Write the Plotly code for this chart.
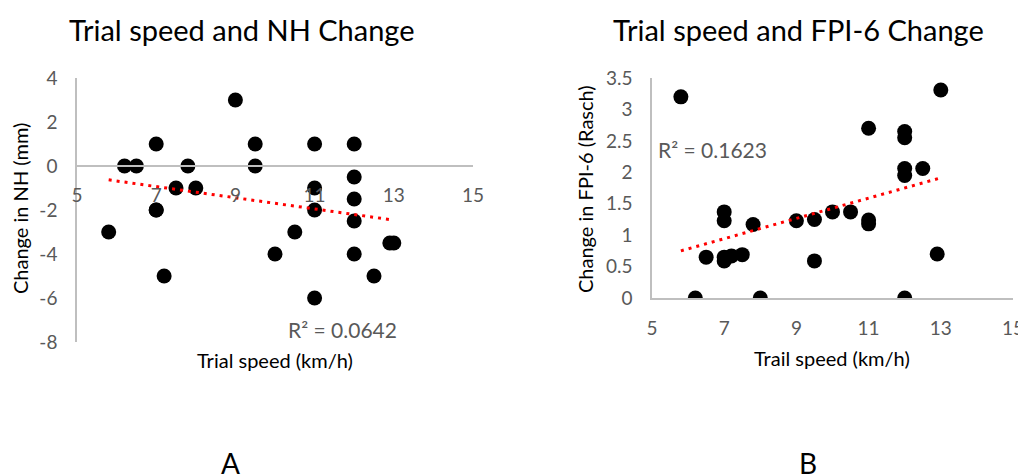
"""Trial speed vs NH change / FPI-6 change, two Excel-style scatter panels."""

import numpy as np
import plotly.graph_objects as go

# Panel A: trial speed vs change in navicular height
speed_a = [5.8, 6.2, 6.5, 7.0, 7.0, 7.0, 7.2, 7.5, 7.8, 8.0, 9.0, 9.5, 9.5,
           10.0, 10.5, 11.0, 11.0, 11.0, 11.0, 12.0, 12.0, 12.0, 12.0, 12.0,
           12.5, 12.9, 13.0]
nh_change = [-3, 0, 0, 1, -2, -2, -5, -1, 0, -1, 3, 1, 0,
             -4, -3, 1, -1, -2, -6, 1, -0.5, -1.5, -2.5, -4,
             -5, -3.5, -3.5]

# Panel B: trail speed vs change in FPI-6
speed_b = [5.8, 6.2, 6.5, 7.0, 7.0, 7.0, 7.0, 7.2, 7.5, 7.8, 8.0, 9.0, 9.5,
           9.5, 10.0, 10.5, 11.0, 11.0, 11.0, 12.0, 12.0, 12.0, 12.0, 12.0,
           12.5, 12.9, 13.0]
fpi_change = [3.2, 0, 0.65, 1.37, 1.23, 0.65, 0.59, 0.67, 0.69, 1.17, 0, 1.23, 1.25,
              0.59, 1.37, 1.37, 2.7, 1.24, 1.18, 2.65, 2.55, 2.06, 1.95, 0,
              2.06, 0.7, 3.31]

titles = ["Trial speed and NH Change", "Trial speed and FPI-6 Change"]
x_titles = ["Trial speed (km/h)", "Trail speed (km/h)"]
y_titles = ["Change in NH (mm)", "Change in FPI-6 (Rasch)"]
r2_labels = ["R² = 0.0642", "R² = 0.1623"]
panel_labels = ["A", "B"]
x_ticks = [5, 7, 9, 11, 13, 15]
y_ticks_a = [4, 2, 0, -2, -4, -6, -8]
y_ticks_b = [0, 0.5, 1, 1.5, 2, 2.5, 3, 3.5]

# the page body has an 8px margin, so the figure is drawn 8px smaller
OFF = 8
W, H = 1026 - OFF, 475 - OFF
FONT = "Lato"
GREY = "#595959"
AXIS = "#bfbfbf"


def px_x(p):
    return (p - OFF) / W


def px_y(p):
    return 1 - (p - OFF) / H


dom_a_x = [px_x(77), px_x(473)]
dom_a_y = [px_y(342), px_y(78)]
dom_b_x = [px_x(652), px_x(1013)]
dom_b_y = [px_y(298), px_y(78)]

fig = go.Figure()


def add_panel(xs, ys, xa, ya):
    fig.add_trace(go.Scatter(
        x=xs, y=ys, mode="markers", xaxis=xa, yaxis=ya,
        marker=dict(color="black", size=15), showlegend=False,
    ))
    # linear trendline fitted from the data
    slope, intercept = np.polyfit(xs, ys, 1)
    xt = np.array([min(xs), max(xs)])
    fig.add_trace(go.Scatter(
        x=xt, y=slope * xt + intercept, mode="lines", xaxis=xa, yaxis=ya,
        line=dict(color="red", width=3, dash="3px,5px"), showlegend=False,
    ))


add_panel(speed_a, nh_change, "x", "y")
add_panel(speed_b, fpi_change, "x2", "y2")

tick_font = dict(family=FONT, size=19, color=GREY)
common_x = dict(range=[5, 15], tickvals=x_ticks, showgrid=False, zeroline=False,
                showline=True, linecolor=AXIS, linewidth=1.5, ticks="",
                tickfont=tick_font, ticklabelstandoff=12, automargin=False)
common_y = dict(showgrid=False, zeroline=False, showline=True, linecolor=AXIS,
                linewidth=1.5, ticks="", tickfont=tick_font, ticklabelstandoff=14,
                automargin=False)

# x axis of panel A crosses at y = 0
pos_a = dom_a_y[0] + (0 - (-8)) / 12 * (dom_a_y[1] - dom_a_y[0])

fig.update_layout(
    width=W, height=H,
    margin=dict(l=0, r=0, t=0, b=0),
    paper_bgcolor="white", plot_bgcolor="white",
    font=dict(family=FONT, color="black"),
    xaxis=dict(domain=dom_a_x, anchor="free", position=pos_a, **common_x),
    yaxis=dict(domain=dom_a_y, anchor="x", range=[-8, 4], tickvals=y_ticks_a,
               ticktext=[str(v) for v in y_ticks_a], **common_y),
    xaxis2=dict(domain=dom_b_x, anchor="y2", **common_x),
    yaxis2=dict(domain=dom_b_y, anchor="x2", range=[0, 3.5], tickvals=y_ticks_b,
                ticktext=[f"{v:g}" for v in y_ticks_b], **common_y),
)


def label(txt, cx, cy, size, color="black", angle=0, yanchor="middle"):
    return dict(text=txt, x=px_x(cx), y=px_y(cy), xref="paper", yref="paper",
                xanchor="center", yanchor=yanchor, textangle=angle,
                showarrow=False, font=dict(family=FONT, size=size, color=color))


annos = []
for txt, cx in zip(titles, [242, 798]):
    annos.append(label(txt, cx, 29, 29))
for txt, cx, cy in zip(x_titles, [275, 832], [360, 358]):
    annos.append(label(txt, cx, cy, 20))
for txt, cx, cy in zip(y_titles, [20, 585], [209, 189]):
    annos.append(label(txt, cx, cy, 20, angle=-90))
for txt, cx, cy in zip(r2_labels, [342, 712], [329, 149]):
    annos.append(label(txt, cx, cy, 21, color=GREY))
for txt, cx in zip(panel_labels, [230, 808]):
    annos.append(label(txt, cx, 444, 28, yanchor="top"))

fig.update_layout(annotations=annos)

fig.write_html("out.html")
